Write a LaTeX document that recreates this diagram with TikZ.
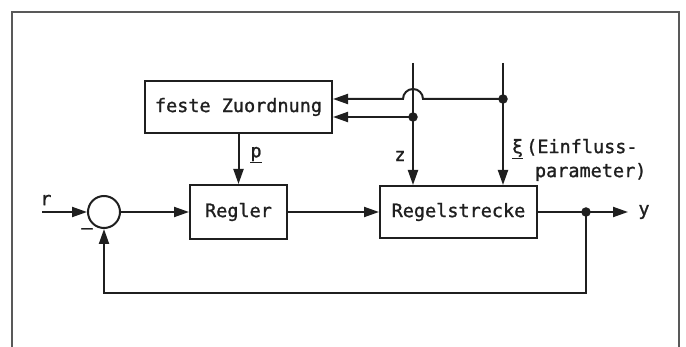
\documentclass[tikz,border=0pt]{standalone}
\usepackage{fontspec}
\newfontfamily\tfont[FakeBold=1.2]{DejaVu Sans Mono}
\usetikzlibrary{arrows.meta,calc}
\begin{document}
\begin{tikzpicture}[x=1pt,y=-1pt,
  line width=2pt,
  ink/.style={draw=black!88},
  blk/.style={ink,rectangle,inner sep=0pt,font=\tfont\fontsize{18.5}{22}\selectfont,text=black!88},
  lbl/.style={inner sep=0pt,font=\tfont\fontsize{18.5}{22}\selectfont,text=black!88},
  arr/.style={ink,-{Triangle[length=15pt,width=10pt]}},
  con/.style={ink},
  dotc/.style={circle,fill=black!88,inner sep=0pt,minimum size=9.5pt}]
\useasboundingbox (0,0) rectangle (686,347);
% frame
\draw[draw=black!65,line width=1.6pt] (12,347) coordinate (fbl) -- (12,12) coordinate (ftl) -- (679,12) coordinate (ftr) -- (679,347) coordinate (fbr);
% blocks
\node[blk,minimum width=187pt,minimum height=52pt] (fz) at (238.5,107) {feste Zuordnung};
\node[blk,minimum width=97pt,minimum height=54pt] (regler) at (238.5,212) {Regler};
\node[blk,minimum width=157pt,minimum height=52pt] (strecke) at (458.5,212) {Regelstrecke};
\node[ink,circle,minimum size=32pt,inner sep=0pt] (sum) at (104,212) {};
% coordinates
\coordinate (r0) at (42,212);
\coordinate (ztop) at (413,63);
\coordinate (xitop) at (503,63);
\node[dotc] (xidot) at (503,99) {};
\node[dotc] (zdot) at (413,117) {};
\node[dotc] (ydot) at (586,212) {};
\coordinate (yend) at (628,212);
\coordinate (fbk) at (586,293);
% main chain
\draw[arr] (r0) -- (sum.west);
\draw[arr] (sum.east) -- (regler.west);
\draw[arr] (regler.east) -- (strecke.west);
\draw[con] (strecke.east) -- (ydot.center);
\draw[arr] (ydot.center) -- (yend);
\draw[arr] (ydot.center) -- (fbk) -| (sum.south);
\draw[arr] (fz.south) -- (regler.north);
% disturbances
\draw[arr] (ztop) -- (ztop |- strecke.north);
\draw[arr] (xitop) -- (xitop |- strecke.north);
\draw[arr] (zdot.center) -- (fz.east |- zdot);
\draw[arr] (xidot.center) -- (423,99) arc[start angle=0,end angle=180,radius=10pt] -- (fz.east |- xidot);
% labels
\node[lbl] (lr) at (46,200) {r};
\node[lbl] (lminus) at (87,231) {–};
\node[lbl] (lp) at (256,155) {\underline{p}};
\node[lbl] (lz) at (400,156) {z};
\node[lbl,anchor=west] (lxi) at (511,149) {\underline{ξ}\,(Einfluss-};
\node[lbl,anchor=west] (lpar) at (534,172) {parameter)};
\node[lbl] (ly) at (644,212) {y};
\end{tikzpicture}
\end{document}
